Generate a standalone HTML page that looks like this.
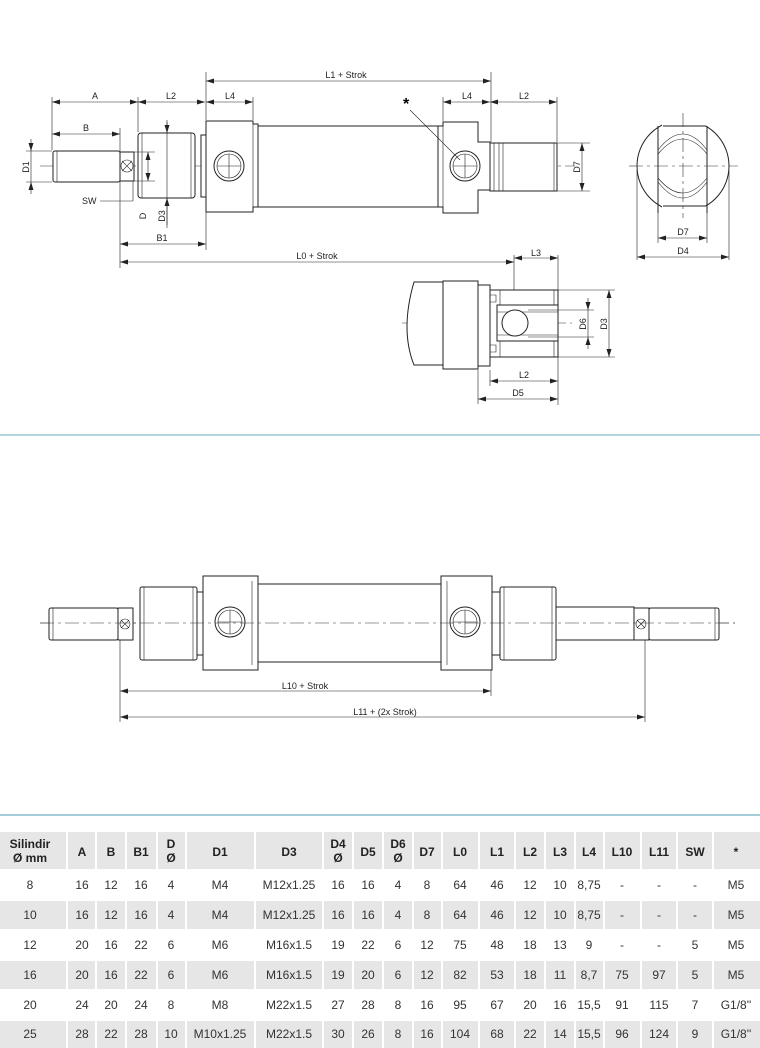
<!DOCTYPE html>
<html><head><meta charset="utf-8"><style>
html,body{margin:0;padding:0;background:#fff;width:760px;height:1048px;overflow:hidden}
svg{display:block}
.l{stroke:#222;stroke-width:1;fill:none}
.t{stroke:#222;stroke-width:0.6;fill:none}
.c{stroke:#333;stroke-width:0.6;fill:none;stroke-dasharray:14,4,3,4}
.f{fill:#fff;stroke:#222;stroke-width:1}
.d{font-family:"Liberation Sans",Arial,sans-serif;font-size:9px;fill:#222}
.tb{font-family:"Liberation Sans Narrow","Liberation Sans",sans-serif;font-size:12px;fill:#333}
.th{font-family:"Liberation Sans Narrow","Liberation Sans",sans-serif;font-size:12px;fill:#222;font-weight:bold}
</style></head><body>
<svg width="760" height="1048" viewBox="0 0 760 1048" xmlns="http://www.w3.org/2000/svg">
<defs><marker id="a" markerWidth="8" markerHeight="6" refX="8" refY="3" orient="auto-start-reverse" markerUnits="userSpaceOnUse"><path d="M0,0.5 L8,3 L0,5.5z" fill="#222"/></marker></defs>

<!-- TOP DRAWING -->
<line class="c" x1="40" y1="166" x2="575" y2="166"/>
<rect class="f" x="53" y="151" width="67" height="31" rx="2"/>
<line class="t" x1="57" y1="151" x2="57" y2="182"/>
<rect class="f" x="120" y="152" width="14" height="29"/>
<circle class="t" cx="127" cy="166" r="6"/><path class="t" d="M122,161 L132,171 M132,161 L122,171"/>
<rect class="f" x="138" y="133" width="57" height="65" rx="3"/>
<line class="t" x1="142" y1="133" x2="142" y2="198"/><line class="t" x1="191" y1="133" x2="191" y2="198"/>
<rect class="f" x="201" y="135" width="5" height="62"/>
<rect class="f" x="258" y="126" width="185" height="81"/>
<path class="f" d="M206,121 H253 V124 H258 V207 H253 V212 H206 Z"/>
<line class="t" x1="253" y1="124" x2="253" y2="212"/>
<circle class="f" cx="229" cy="166" r="15"/><circle class="t" cx="229" cy="166" r="12"/>
<path class="t" d="M229,154 V178 M217,166 H241"/>
<path class="f" d="M438,126 H443 V122 H478 V142 H490 V190 H478 V213 H443 V207 H438 Z"/>
<line class="t" x1="443" y1="126" x2="443" y2="207"/>
<circle class="f" cx="465" cy="166" r="15"/><circle class="t" cx="465" cy="166" r="12"/>
<path class="t" d="M465,154 V178 M453,166 H477"/>
<rect class="f" x="490" y="143" width="67" height="48"/>
<path class="t" d="M494,143V191 M499,143V191 M503,143V191 M554,143V191"/>
<line class="t" x1="410" y1="110" x2="460" y2="160"/>
<text x="403" y="109" style="font-family:'Liberation Sans',sans-serif;font-size:16px;font-weight:bold">*</text>
<!-- dims -->
<g class="t">
<line x1="206" y1="72" x2="206" y2="120"/><line x1="491" y1="72" x2="491" y2="142"/>
<line x1="52" y1="97" x2="52" y2="150"/><line x1="138" y1="97" x2="138" y2="132"/><line x1="253" y1="97" x2="253" y2="120"/>
<line x1="443" y1="97" x2="443" y2="121"/><line x1="557" y1="97" x2="557" y2="142"/>
<line x1="120" y1="128" x2="120" y2="268"/><line x1="206" y1="212" x2="206" y2="250"/>
<line x1="26" y1="151" x2="52" y2="151"/><line x1="26" y1="182" x2="52" y2="182"/>
<line x1="133" y1="181" x2="133" y2="201"/><line x1="100" y1="201" x2="133" y2="201"/>
<line x1="134" y1="152" x2="155" y2="152"/><line x1="134" y1="181" x2="155" y2="181"/>
<line x1="557" y1="143" x2="590" y2="143"/><line x1="557" y1="191" x2="590" y2="191"/>
<line x1="514" y1="255" x2="514" y2="330"/><line x1="558" y1="255" x2="558" y2="405"/>
</g>
<line class="t" x1="206" y1="81" x2="491" y2="81" marker-start="url(#a)" marker-end="url(#a)"/>
<text class="d" x="346" y="78" text-anchor="middle">L1 + Strok</text>
<line class="t" x1="52" y1="102" x2="138" y2="102" marker-start="url(#a)" marker-end="url(#a)"/>
<text class="d" x="95" y="99" text-anchor="middle">A</text>
<line class="t" x1="138" y1="102" x2="205" y2="102" marker-start="url(#a)" marker-end="url(#a)"/>
<text class="d" x="171" y="99" text-anchor="middle">L2</text>
<line class="t" x1="206" y1="102" x2="253" y2="102" marker-start="url(#a)" marker-end="url(#a)"/>
<text class="d" x="230" y="99" text-anchor="middle">L4</text>
<line class="t" x1="443" y1="102" x2="490" y2="102" marker-start="url(#a)" marker-end="url(#a)"/>
<text class="d" x="467" y="99" text-anchor="middle">L4</text>
<line class="t" x1="490" y1="102" x2="557" y2="102" marker-start="url(#a)" marker-end="url(#a)"/>
<text class="d" x="524" y="99" text-anchor="middle">L2</text>
<line class="t" x1="52" y1="134" x2="120" y2="134" marker-start="url(#a)" marker-end="url(#a)"/>
<text class="d" x="86" y="131" text-anchor="middle">B</text>
<line class="t" x1="31" y1="139" x2="31" y2="151" marker-end="url(#a)"/><line class="t" x1="31" y1="194" x2="31" y2="182" marker-end="url(#a)"/>
<line class="t" x1="31" y1="151" x2="31" y2="182"/>
<text class="d" transform="translate(29,167) rotate(-90)" text-anchor="middle">D1</text>
<text class="d" x="82" y="204">SW</text>
<line class="t" x1="148" y1="152" x2="148" y2="181" marker-start="url(#a)" marker-end="url(#a)"/>
<text class="d" transform="translate(146,216) rotate(-90)" text-anchor="middle">D</text>
<line class="t" x1="167" y1="120" x2="167" y2="228"/>
<line class="t" x1="167" y1="122" x2="167" y2="133" marker-end="url(#a)"/>
<line class="t" x1="167" y1="225" x2="167" y2="198" marker-end="url(#a)"/>
<text class="d" transform="translate(165,216) rotate(-90)" text-anchor="middle">D3</text>
<line class="t" x1="120" y1="244" x2="206" y2="244" marker-start="url(#a)" marker-end="url(#a)"/>
<text class="d" x="162" y="241" text-anchor="middle">B1</text>
<line class="t" x1="120" y1="262" x2="514" y2="262" marker-start="url(#a)" marker-end="url(#a)"/>
<text class="d" x="317" y="259" text-anchor="middle">L0 + Strok</text>
<line class="t" x1="582" y1="143" x2="582" y2="191" marker-start="url(#a)" marker-end="url(#a)"/>
<text class="d" transform="translate(580,167) rotate(-90)" text-anchor="middle">D7</text>

<!-- END VIEW -->
<circle class="l" cx="683" cy="166" r="46"/>
<rect x="662" y="118" width="44" height="7.5" fill="#fff"/>
<rect x="662" y="206.5" width="44" height="8" fill="#fff"/>
<path class="l" d="M663,126 H705 M663,206 H705 M658,126 V213 M707,126 V213"/>
<path class="t" d="M658,150 Q683,118 707,150 M658,154 Q683,124 707,154 M658,182 Q683,214 707,182 M658,178 Q683,208 707,178"/>
<line class="c" x1="629" y1="166" x2="738" y2="166"/>
<line class="c" x1="683" y1="113" x2="683" y2="218"/>
<path class="t" d="M658,213 V243 M707,213 V243 M637,170 V260 M729,170 V260"/>
<line class="t" x1="658" y1="238" x2="707" y2="238" marker-start="url(#a)" marker-end="url(#a)"/>
<text class="d" x="683" y="235" text-anchor="middle">D7</text>
<line class="t" x1="637" y1="257" x2="729" y2="257" marker-start="url(#a)" marker-end="url(#a)"/>
<text class="d" x="683" y="254" text-anchor="middle">D4</text>

<!-- BOTTOM DETAIL -->
<line class="c" x1="402" y1="323" x2="572" y2="323"/>
<path class="f" d="M414,282 H443 V365 H414 Q400,330 414,282 Z"/>
<path class="f" d="M437,282 H443 V365 H437"/>
<path class="f" d="M443,281 H478 V369 H443 Z"/>
<path class="f" d="M478,285 H490 V366 H478 Z"/>
<path class="f" d="M490,290 H558 V357 H490 Z"/>
<path class="t" d="M500,290 V305 M500,341 V357 M554,290 V357 M490,295 H496 V302 H490 M490,345 H496 V352 H490"/>
<path class="f" d="M497,305 H558 V341 H497 Z"/>
<line class="t" x1="497" y1="312" x2="558" y2="312"/><line class="t" x1="497" y1="335" x2="558" y2="335"/>
<circle class="f" cx="515" cy="323" r="13"/>
<line class="t" x1="558" y1="290" x2="615" y2="290"/><line class="t" x1="558" y1="357" x2="615" y2="357"/>
<line class="t" x1="528" y1="310" x2="594" y2="310"/><line class="t" x1="528" y1="337" x2="594" y2="337"/>
<line class="t" x1="490" y1="370" x2="490" y2="386"/><line class="t" x1="478" y1="370" x2="478" y2="404"/>
<line class="t" x1="514" y1="258" x2="558" y2="258" marker-start="url(#a)" marker-end="url(#a)"/>
<text class="d" x="536" y="256" text-anchor="middle">L3</text>
<line class="t" x1="588" y1="298" x2="588" y2="310" marker-end="url(#a)"/><line class="t" x1="588" y1="349" x2="588" y2="337" marker-end="url(#a)"/>
<line class="t" x1="588" y1="310" x2="588" y2="337"/>
<text class="d" transform="translate(586,324) rotate(-90)" text-anchor="middle">D6</text>
<line class="t" x1="609" y1="290" x2="609" y2="357" marker-start="url(#a)" marker-end="url(#a)"/>
<text class="d" transform="translate(607,324) rotate(-90)" text-anchor="middle">D3</text>
<line class="t" x1="490" y1="381" x2="558" y2="381" marker-start="url(#a)" marker-end="url(#a)"/>
<text class="d" x="524" y="378" text-anchor="middle">L2</text>
<line class="t" x1="478" y1="399" x2="558" y2="399" marker-start="url(#a)" marker-end="url(#a)"/>
<text class="d" x="518" y="396" text-anchor="middle">D5</text>

<line x1="0" y1="435" x2="760" y2="435" stroke="#86bccc" stroke-width="1.2"/>

<!-- MIDDLE DRAWING -->
<line class="c" x1="40" y1="623" x2="735" y2="623"/>
<rect class="f" x="49" y="608" width="69" height="32" rx="2"/>
<line class="t" x1="53" y1="608" x2="53" y2="640"/>
<rect class="f" x="118" y="608" width="15" height="32"/>
<circle class="t" cx="125" cy="624" r="5"/><path class="t" d="M121,620 L129,628 M129,620 L121,628"/>
<rect class="f" x="140" y="587" width="57" height="73" rx="2"/>
<line class="t" x1="144" y1="587" x2="144" y2="660"/><line class="t" x1="193" y1="587" x2="193" y2="660"/>
<rect class="f" x="197" y="592" width="6" height="63"/>
<rect class="f" x="258" y="584" width="183" height="78"/>
<path class="f" d="M203,576 H258 V670 H203 Z"/><line class="t" x1="252" y1="581" x2="252" y2="665"/>
<circle class="f" cx="230" cy="622" r="15"/><circle class="t" cx="230" cy="622" r="12"/><path class="t" d="M230,610V634 M218,622H242"/>
<path class="f" d="M441,576 H492 V670 H441 Z"/><line class="t" x1="447" y1="581" x2="447" y2="665"/>
<circle class="f" cx="465" cy="622" r="15"/><circle class="t" cx="465" cy="622" r="12"/><path class="t" d="M465,610V634 M453,622H477"/>
<rect class="f" x="492" y="592" width="8" height="63"/>
<rect class="f" x="500" y="587" width="56" height="73" rx="2"/>
<line class="t" x1="504" y1="587" x2="504" y2="660"/><line class="t" x1="552" y1="587" x2="552" y2="660"/>
<rect class="f" x="556" y="607" width="78" height="33"/>
<rect class="f" x="634" y="608" width="15" height="32"/>
<circle class="t" cx="641" cy="624" r="5"/><path class="t" d="M637,620 L645,628 M645,620 L637,628"/>
<rect class="f" x="649" y="608" width="70" height="32" rx="2"/>
<line class="t" x1="715" y1="608" x2="715" y2="640"/>
<line class="c" x1="40" y1="623" x2="735" y2="623"/>
<path class="t" d="M120,640 V722 M491,670 V696 M645,640 V722"/>
<line class="t" x1="120" y1="691" x2="491" y2="691" marker-start="url(#a)" marker-end="url(#a)"/>
<text class="d" x="305" y="689" text-anchor="middle">L10 + Strok</text>
<line class="t" x1="120" y1="717" x2="645" y2="717" marker-start="url(#a)" marker-end="url(#a)"/>
<text class="d" x="385" y="715" text-anchor="middle">L11 + (2x Strok)</text>

<line x1="0" y1="815" x2="760" y2="815" stroke="#86bccc" stroke-width="1.5"/>

<!-- TABLE -->
<rect x="0" y="832" width="760" height="38" fill="#e6e6e6"/>
<rect x="0" y="900" width="760" height="30" fill="#e6e6e6"/>
<rect x="0" y="960" width="760" height="30" fill="#e6e6e6"/>
<rect x="0" y="1020" width="760" height="28" fill="#e6e6e6"/>
<g stroke="#fff" stroke-width="2">
<line x1="67" y1="832" x2="67" y2="1048"/><line x1="96" y1="832" x2="96" y2="1048"/><line x1="126" y1="832" x2="126" y2="1048"/><line x1="157" y1="832" x2="157" y2="1048"/><line x1="186" y1="832" x2="186" y2="1048"/><line x1="255" y1="832" x2="255" y2="1048"/><line x1="323" y1="832" x2="323" y2="1048"/><line x1="353" y1="832" x2="353" y2="1048"/><line x1="383" y1="832" x2="383" y2="1048"/><line x1="413" y1="832" x2="413" y2="1048"/><line x1="442" y1="832" x2="442" y2="1048"/><line x1="479" y1="832" x2="479" y2="1048"/><line x1="515" y1="832" x2="515" y2="1048"/><line x1="545" y1="832" x2="545" y2="1048"/><line x1="575" y1="832" x2="575" y2="1048"/><line x1="604" y1="832" x2="604" y2="1048"/><line x1="641" y1="832" x2="641" y2="1048"/><line x1="677" y1="832" x2="677" y2="1048"/><line x1="713" y1="832" x2="713" y2="1048"/>
<line x1="0" y1="870" x2="760" y2="870"/><line x1="0" y1="900" x2="760" y2="900"/><line x1="0" y1="930" x2="760" y2="930"/><line x1="0" y1="960" x2="760" y2="960"/><line x1="0" y1="990" x2="760" y2="990"/><line x1="0" y1="1020" x2="760" y2="1020"/>
</g>
<g class="th" text-anchor="middle">
<text x="30" y="848">Silindir</text><text x="30" y="862">Ø mm</text>
<text x="82" y="856">A</text><text x="111" y="856">B</text><text x="141" y="856">B1</text>
<text x="171" y="848">D</text><text x="171" y="862">Ø</text>
<text x="220" y="856">D1</text><text x="289" y="856">D3</text>
<text x="338" y="848">D4</text><text x="338" y="862">Ø</text>
<text x="368" y="856">D5</text>
<text x="398" y="848">D6</text><text x="398" y="862">Ø</text>
<text x="427" y="856">D7</text><text x="460" y="856">L0</text><text x="497" y="856">L1</text><text x="530" y="856">L2</text><text x="560" y="856">L3</text><text x="589" y="856">L4</text><text x="622" y="856">L10</text><text x="659" y="856">L11</text><text x="695" y="856">SW</text><text x="736" y="856">*</text>
</g>
<g class="tb" text-anchor="middle">
<g transform="translate(0,889)"><text x="30">8</text><text x="82">16</text><text x="111">12</text><text x="141">16</text><text x="171">4</text><text x="220">M4</text><text x="289">M12x1.25</text><text x="338">16</text><text x="368">16</text><text x="398">4</text><text x="427">8</text><text x="460">64</text><text x="497">46</text><text x="530">12</text><text x="560">10</text><text x="589">8,75</text><text x="622">-</text><text x="659">-</text><text x="695">-</text><text x="736">M5</text></g>
<g transform="translate(0,919)"><text x="30">10</text><text x="82">16</text><text x="111">12</text><text x="141">16</text><text x="171">4</text><text x="220">M4</text><text x="289">M12x1.25</text><text x="338">16</text><text x="368">16</text><text x="398">4</text><text x="427">8</text><text x="460">64</text><text x="497">46</text><text x="530">12</text><text x="560">10</text><text x="589">8,75</text><text x="622">-</text><text x="659">-</text><text x="695">-</text><text x="736">M5</text></g>
<g transform="translate(0,949)"><text x="30">12</text><text x="82">20</text><text x="111">16</text><text x="141">22</text><text x="171">6</text><text x="220">M6</text><text x="289">M16x1.5</text><text x="338">19</text><text x="368">22</text><text x="398">6</text><text x="427">12</text><text x="460">75</text><text x="497">48</text><text x="530">18</text><text x="560">13</text><text x="589">9</text><text x="622">-</text><text x="659">-</text><text x="695">5</text><text x="736">M5</text></g>
<g transform="translate(0,979)"><text x="30">16</text><text x="82">20</text><text x="111">16</text><text x="141">22</text><text x="171">6</text><text x="220">M6</text><text x="289">M16x1.5</text><text x="338">19</text><text x="368">20</text><text x="398">6</text><text x="427">12</text><text x="460">82</text><text x="497">53</text><text x="530">18</text><text x="560">11</text><text x="589">8,7</text><text x="622">75</text><text x="659">97</text><text x="695">5</text><text x="736">M5</text></g>
<g transform="translate(0,1009)"><text x="30">20</text><text x="82">24</text><text x="111">20</text><text x="141">24</text><text x="171">8</text><text x="220">M8</text><text x="289">M22x1.5</text><text x="338">27</text><text x="368">28</text><text x="398">8</text><text x="427">16</text><text x="460">95</text><text x="497">67</text><text x="530">20</text><text x="560">16</text><text x="589">15,5</text><text x="622">91</text><text x="659">115</text><text x="695">7</text><text x="736">G1/8''</text></g>
<g transform="translate(0,1038)"><text x="30">25</text><text x="82">28</text><text x="111">22</text><text x="141">28</text><text x="171">10</text><text x="220">M10x1.25</text><text x="289">M22x1.5</text><text x="338">30</text><text x="368">26</text><text x="398">8</text><text x="427">16</text><text x="460">104</text><text x="497">68</text><text x="530">22</text><text x="560">14</text><text x="589">15,5</text><text x="622">96</text><text x="659">124</text><text x="695">9</text><text x="736">G1/8''</text></g>
</g>
</svg>
</body></html>
